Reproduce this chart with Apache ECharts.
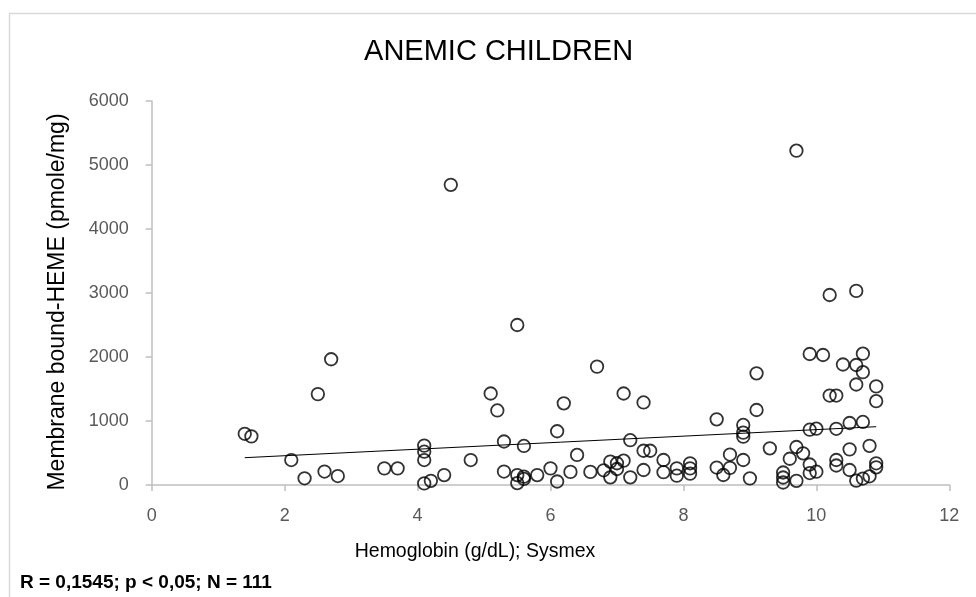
<!DOCTYPE html>
<html>
<head>
<meta charset="utf-8">
<script src="https://cdn.jsdelivr.net/npm/echarts@6/dist/echarts.min.js"></script>
<style>
html,body{margin:0;padding:0;background:#fff;}
#chart{width:976px;height:597px;}
</style>
</head>
<body>
<div id="chart"></div>
<script>
// Hemoglobin (g/dL) values
var hemoglobin = [
  1.4, 1.5, 2.1, 2.3, 2.5, 2.6, 2.7, 2.8, 3.5, 3.7,
  4.1, 4.1, 4.1, 4.1, 4.2, 4.4, 4.5, 4.8, 5.1, 5.2,
  5.3, 5.3, 5.5, 5.5, 5.5, 5.6, 5.6, 5.6, 5.8, 6.0,
  6.1, 6.1, 6.2, 6.3, 6.4, 6.6, 6.7, 6.8, 6.9, 6.9,
  7.0, 7.0, 7.1, 7.1, 7.2, 7.2, 7.4, 7.4, 7.4, 7.5,
  7.7, 7.7, 7.9, 7.9, 8.1, 8.1, 8.1, 8.5, 8.5, 8.6,
  8.7, 8.7, 8.9, 8.9, 8.9, 8.9, 9.0, 9.1, 9.1, 9.3,
  9.5, 9.5, 9.5, 9.7, 9.7, 9.7, 9.6, 9.8, 9.9, 9.9,
  9.9, 9.9, 10.0, 10.0, 10.1, 10.2, 10.2, 10.3, 10.3, 10.3,
  10.3, 10.4, 10.5, 10.5, 10.5, 10.6, 10.6, 10.6, 10.6, 10.7,
  10.7, 10.7, 10.7, 10.8, 10.8, 10.9, 10.9, 10.9, 10.9
];
// Membrane bound-HEME (pmole/mg) values
var heme = [
  800, 760, 390, 105, 1420, 210, 1965, 140, 260, 260,
  615, 520, 390, 25, 65, 155, 4690, 390, 1430, 1165,
  680, 210, 2500, 155, 30, 130, 95, 610, 155, 260,
  55, 840, 1276, 205, 470, 205, 1850, 230, 365, 120,
  340, 250, 380, 1430, 700, 120, 1290, 234, 535, 535,
  391, 200, 260, 145, 339, 260, 178, 1026, 273, 156,
  476, 268, 938, 818, 755, 391, 104, 1172, 1745, 573,
  195, 117, 39, 5224, 594, 65, 410, 495, 2047, 864,
  320, 187, 880, 208, 2031, 2969, 1398, 1398, 878, 391,
  305, 1883, 969, 557, 234, 3033, 1875, 1570, 67, 2052,
  1763, 985, 101, 612, 136, 1541, 1310, 339, 276
];
// Linear trend line endpoints
var trendX = [1.4, 10.9];
var trendY = [427, 911];

var xTicks = [0, 2, 4, 6, 8, 10, 12];
var yTicks = [0, 1000, 2000, 3000, 4000, 5000, 6000];

var titleText = 'ANEMIC CHILDREN';
var xTitle = 'Hemoglobin (g/dL); Sysmex';
var yTitle = 'Membrane bound-HEME (pmole/mg)';
var footnote = 'R = 0,1545; p < 0,05; N = 111';

var points = hemoglobin.map(function (h, i) { return [h, heme[i]]; });
var trend = trendX.map(function (x, i) { return [x, trendY[i]]; });

var chart = echarts.init(document.getElementById('chart'), null, {renderer: 'canvas'});
var axisGray = '#bfbfbf';
var labelGray = '#595959';
var fontFam = '"Liberation Sans", Arial, sans-serif';

chart.setOption({
  backgroundColor: '#ffffff',
  animation: false,
  grid: {left: 151.7, right: 26.7, top: 101, bottom: 112, containLabel: false},
  xAxis: {
    type: 'value',
    min: xTicks[0], max: xTicks[xTicks.length - 1], interval: 2,
    axisLine: {show: true, lineStyle: {color: axisGray, width: 1.5}},
    axisTick: {show: true, length: 6, lineStyle: {color: axisGray, width: 1.5}},
    splitLine: {show: false},
    axisLabel: {color: labelGray, fontSize: 18, fontFamily: fontFam, margin: 22,
      formatter: function (v) { return String(v); }}
  },
  yAxis: {
    type: 'value',
    min: yTicks[0], max: yTicks[yTicks.length - 1], interval: 1000,
    axisLine: {show: true, lineStyle: {color: axisGray, width: 1.5}},
    axisTick: {show: true, length: 6, lineStyle: {color: axisGray, width: 1.5}},
    splitLine: {show: false},
    axisLabel: {color: labelGray, fontSize: 18, fontFamily: fontFam, margin: 23,
      formatter: function (v) { return String(v); }}
  },
  series: [
    {
      type: 'scatter',
      data: points,
      symbol: 'circle',
      symbolSize: 12.5,
      itemStyle: {color: 'rgba(0,0,0,0)', borderColor: '#000000', borderWidth: 1.8}
    },
    {
      type: 'line',
      data: trend,
      symbol: 'none',
      lineStyle: {color: '#000000', width: 1},
      z: 1
    }
  ],
  graphic: [
    {
      type: 'rect', left: 7, top: 11, silent: true, z: -10,
      shape: {width: 1000, height: 620},
      style: {fill: 'none', stroke: '#d9d9d9', lineWidth: 1.5}
    },
    {
      type: 'text', x: 498.6, y: 51.7,
      style: {text: titleText, fill: '#000', font: '29px ' + fontFam, textAlign: 'center', textVerticalAlign: 'middle'}
    },
    {
      type: 'text', x: 475, y: 552,
      style: {text: xTitle, fill: '#000', font: '19.5px ' + fontFam, textAlign: 'center', textVerticalAlign: 'middle'}
    },
    {
      type: 'text', x: 58, y: 302, rotation: Math.PI / 2,
      style: {text: yTitle, fill: '#000', font: '23px ' + fontFam, textAlign: 'center', textVerticalAlign: 'middle'}
    },
    {
      type: 'text', x: 20, y: 583,
      style: {text: footnote, fill: '#000', font: 'bold 19px ' + fontFam, textAlign: 'left', textVerticalAlign: 'middle'}
    }
  ]
});
</script>
</body>
</html>
